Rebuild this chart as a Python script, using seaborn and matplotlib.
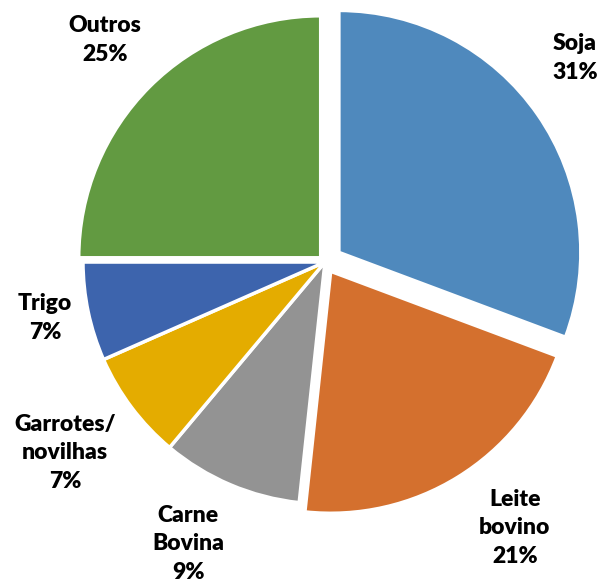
import matplotlib
matplotlib.use("Agg")
import matplotlib.pyplot as plt
import seaborn as sns

# Data (shares; labels show rounded values)
categories = ["Soja", "Leite\nbovino", "Carne\nBovina", "Garrotes/\nnovilhas", "Trigo", "Outros"]
shares = [30.7, 21.0, 9.4, 7.3, 6.6, 25.0]
colors_hex = ["#4F89BD", "#D4702E", "#939393", "#E4AC00", "#3D64AD", "#629A41"]

# Layout (styling only)
explode = [0.07, 0.045, 0.0, 0.0, 0.0, 0.025]
label_pos = [(1.033, 0.843), (0.785, -1.099), (-0.566, -1.165),
             (-1.074, -0.789), (-1.157, -0.231), (-0.909, 0.917)]

sns.set_theme(style="white")
plt.rcParams['font.family'] = ['Lato', 'DejaVu Sans']

fig = plt.figure(figsize=(6.03, 5.87), dpi=100)
ax = fig.add_axes([0, 0, 1, 1])
palette = sns.color_palette(colors_hex)

ax.pie(shares, colors=palette, explode=explode, startangle=90, counterclock=False,
       radius=1.0, wedgeprops=dict(edgecolor="white", linewidth=2.5))

total = sum(shares)
for cat, val, (x, y) in zip(categories, shares, label_pos):
    pct = int(100 * val / total + 0.5)
    ax.text(x, y, f"{cat}\n{pct}%", ha="center", va="center", fontsize=16.5,
            fontweight="heavy", color="black", linespacing=1.45)

ax.set_xlim(-1.343, 1.149)
ax.set_ylim(-1.343, 1.083)
ax.axis("off")
fig.savefig("out.png", dpi=100)
